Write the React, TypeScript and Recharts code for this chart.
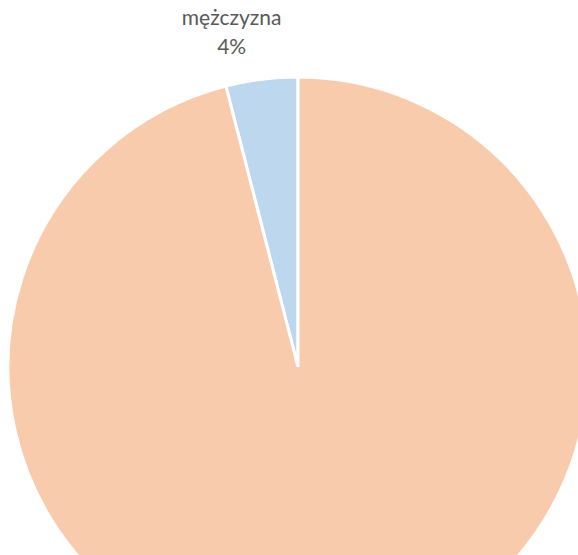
import { PieChart, Pie, Cell } from 'recharts'

const labels = ['mężczyzna', 'kobieta']
const shares = [4, 96]
const colors = ['#BDD7EE', '#F8CBAD']

const data = labels.map((name, i) => ({ name, value: shares[i] }))

const RADIAN = Math.PI / 180
const VIEW_H = 555

// label sits above the slice's outer arc, two lines: name + percent
const renderLabel = ({ cx, cy, midAngle, outerRadius, name, percent }: any) => {
  const x = cx + outerRadius * Math.cos(-midAngle * RADIAN)
  const y = cy + outerRadius * Math.sin(-midAngle * RADIAN)
  // the bottom label falls outside the visible area in the original
  if (y > VIEW_H) return null
  const tx = x - 30
  return (
    <text
      x={tx}
      y={y - 54}
      fill="#595959"
      textAnchor="middle"
      fontFamily="Lato, 'Open Sans', sans-serif"
      fontSize={21}
    >
      <tspan x={tx} dy={0}>{name}</tspan>
      <tspan x={tx} dy={29}>{`${Math.round(percent * 100)}%`}</tspan>
    </text>
  )
}

export default function App() {
  return (
    <div
      style={{
        position: 'fixed',
        top: 0,
        left: 0,
        width: 578,
        height: 555,
        overflow: 'hidden',
        background: '#fff',
      }}
    >
      <PieChart width={700} height={700}>
        <Pie
          data={data}
          dataKey="value"
          nameKey="name"
          cx={293}
          cy={362}
          outerRadius={290}
          startAngle={90}
          endAngle={450}
          stroke="#fff"
          strokeWidth={3}
          label={renderLabel}
          labelLine={false}
          isAnimationActive={false}
        >
          {data.map((d, i) => (
            <Cell key={d.name} fill={colors[i]} />
          ))}
        </Pie>
      </PieChart>
    </div>
  )
}
